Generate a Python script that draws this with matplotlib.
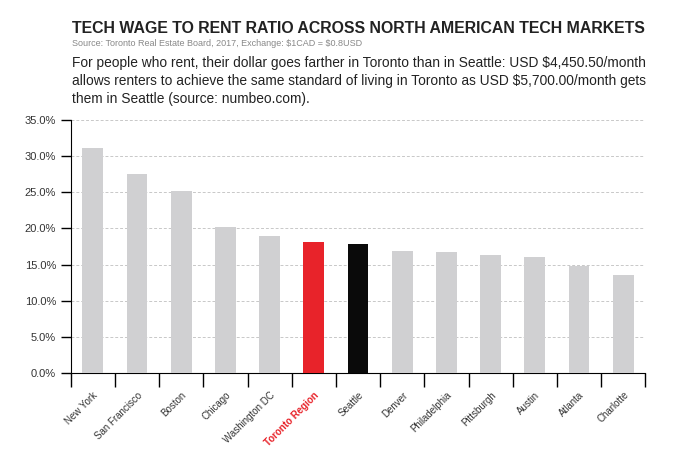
import matplotlib.pyplot as plt
import numpy as np

cities = ["New York", "San Francisco", "Boston", "Chicago", "Washington DC",
          "Toronto Region", "Seattle", "Denver", "Philadelphia", "Pittsburgh",
          "Austin", "Atlanta", "Charlotte"]
ratio = [31.1, 27.5, 25.2, 20.2, 19.0, 18.1, 17.8, 16.9, 16.7, 16.3, 16.1, 14.8, 13.6]

colors = ["#d0d0d2"] * len(cities)
colors[cities.index("Toronto Region")] = "#e8232a"
colors[cities.index("Seattle")] = "#0a0a0a"

plt.rcParams["font.family"] = ["Liberation Sans", "DejaVu Sans"]

fig = plt.figure(figsize=(7, 4.67), dpi=100)
ax = fig.add_axes([0.101, 0.2006, 0.821, 0.5434])

x = np.arange(len(cities))
ax.bar(x, ratio, width=0.47, color=colors, zorder=3)

ax.set_xlim(-0.5, len(cities) - 0.5)
ax.set_ylim(0, 35)
ax.set_yticks(np.arange(0, 36, 5))
ax.set_yticklabels([f"{v:.1f}%" for v in np.arange(0, 36, 5)], fontsize=8, color="#333333")
ax.yaxis.grid(True, linestyle=(0, (3, 2)), color="#c8c8c8", linewidth=0.7, zorder=0)

ax.set_xticks(np.arange(-0.5, len(cities), 1))
ax.set_xticklabels([])
ax.set_xticks(x, minor=True)
ax.set_xticklabels(cities, minor=True, rotation=45, ha="right",
                   rotation_mode="anchor", fontsize=7, color="#333333")
ax.tick_params(axis="x", which="major", length=10, width=1, direction="out")
ax.tick_params(axis="x", which="minor", length=0, pad=12)
ax.tick_params(axis="y", length=7, width=1, direction="out")
for lbl in ax.get_xticklabels(minor=True):
    if lbl.get_text() == "Toronto Region":
        lbl.set_color("#e8232a")
        lbl.set_fontweight("bold")

for s in ["top", "right"]:
    ax.spines[s].set_visible(False)

title = fig.text(0.103, 0.94, "TECH WAGE TO RENT RATIO ACROSS NORTH AMERICAN TECH MARKETS",
                 fontsize=13, fontweight="bold", color="#222222", va="center")
# shrink title to the width it has in the reference (about 576 px)
fig.canvas.draw()
w = title.get_window_extent().width
title.set_fontsize(13 * 576 / w)

fig.text(0.103, 0.907, "Source: Toronto Real Estate Board, 2017, Exchange: \\$1CAD = \\$0.8USD",
         fontsize=6.5, color="#888888", va="center")
fig.text(0.103, 0.773,
         "For people who rent, their dollar goes farther in Toronto than in Seattle: USD \\$4,450.50/month\n"
         "allows renters to achieve the same standard of living in Toronto as USD \\$5,700.00/month gets\n"
         "them in Seattle (source: numbeo.com).",
         fontsize=9.9, color="#222222", va="bottom", linespacing=1.35)

fig.savefig("out.png", dpi=100)
